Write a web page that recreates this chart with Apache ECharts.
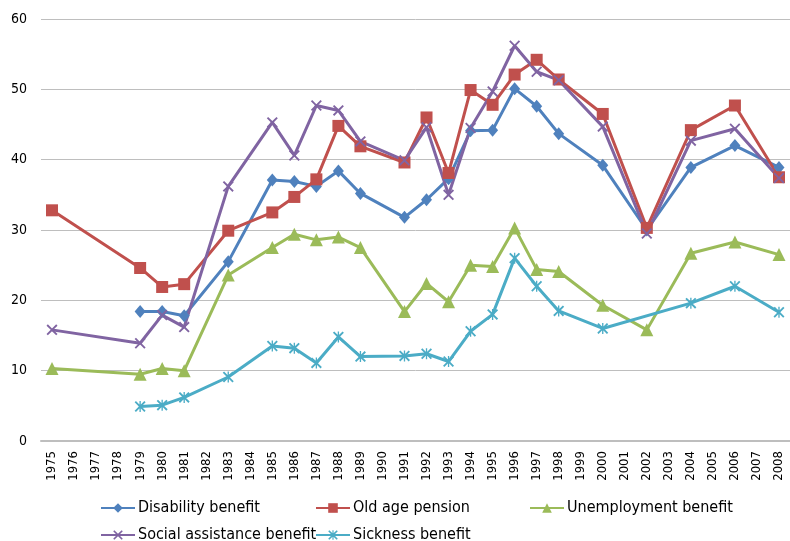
<!DOCTYPE html>
<html>
<head>
<meta charset="utf-8">
<script src="https://cdn.jsdelivr.net/npm/echarts@6/dist/echarts.min.js"></script>
<style>
html,body{margin:0;padding:0;background:#fff;}
#chart{width:790px;height:541px;}
</style>
</head>
<body>
<div id="chart"></div>
<script>
var years = ['1975','1976','1977','1978','1979','1980','1981','1982','1983','1984','1985','1986','1987','1988','1989','1990','1991','1992','1993','1994','1995','1996','1997','1998','1999','2000','2001','2002','2003','2004','2005','2006','2007','2008'];
var disability = [null,null,null,null,18.4,18.4,17.8,null,25.5,null,37.1,36.9,36.2,38.4,35.2,null,31.8,34.3,37.3,44.1,44.2,50.1,47.6,43.7,null,39.2,null,30.0,null,38.9,null,42.0,null,38.9];
var oldAge = [32.8,null,null,null,24.6,21.9,22.3,null,29.9,null,32.5,34.7,37.2,44.8,41.9,null,39.6,46.0,38.1,49.9,47.8,52.1,54.2,51.4,null,46.5,null,30.3,null,44.2,null,47.7,null,37.5];
var unemployment = [10.3,null,null,null,9.5,10.3,10.0,null,23.6,null,27.5,29.4,28.6,29.0,27.5,null,18.4,22.4,19.8,25.0,24.8,30.3,24.4,24.1,null,19.3,null,15.8,null,26.7,null,28.3,null,26.5];
var social = [15.8,null,null,null,13.9,17.9,16.2,null,36.2,null,45.3,40.6,47.7,47.0,42.6,null,39.9,44.6,35.0,44.5,49.7,56.2,52.5,51.3,null,44.7,null,29.5,null,42.7,null,44.4,null,37.4];
var sickness = [null,null,null,null,4.9,5.1,6.2,null,9.1,null,13.5,13.2,11.1,14.8,12.0,null,12.1,12.4,11.3,15.6,18.0,26.0,22.0,18.5,null,16.0,null,null,null,19.6,null,22.0,null,18.3];
var seriesNames = ['Disability benefit','Old age pension','Unemployment benefit','Social assistance benefit','Sickness benefit'];

var FONT = 'DejaVu Sans Condensed, DejaVu Sans, sans-serif';
var xPath = 'path://M0,1.2 L1.2,0 L5,3.8 L8.8,0 L10,1.2 L6.2,5 L10,8.8 L8.8,10 L5,6.2 L1.2,10 L0,8.8 L3.8,5 Z';
var starPath = 'path://M0,1.2 L1.2,0 L5,3.8 L8.8,0 L10,1.2 L6.2,5 L10,8.8 L8.8,10 L5,6.2 L1.2,10 L0,8.8 L3.8,5 Z M4.4,0 L5.6,0 L5.6,10 L4.4,10 Z';

function mk(name, data, color, symbol, size) {
  return {
    name: name, type: 'line', data: data, connectNulls: true,
    symbol: symbol, symbolSize: size,
    lineStyle: {color: color, width: 3},
    itemStyle: {color: color},
    emphasis: {disabled: true},
    animation: false
  };
}

var chart = echarts.init(document.getElementById('chart'));
function lg(name, left, top) {
  return {data: [name], left: left, top: top, padding: 0, itemWidth: 34, itemHeight: 12, itemGap: 0,
    textStyle: {fontFamily: FONT, fontSize: 16, color: '#000', padding: [0,0,0,-2]}, selectedMode: false};
}
chart.setOption({
  backgroundColor: '#fff',
  animation: false,
  grid: {left: 41, right: -6, top: 19, bottom: 100},
  legend: [
    lg(seriesNames[0], 100, 500),
    lg(seriesNames[1], 315, 500),
    lg(seriesNames[2], 529, 500),
    lg(seriesNames[3], 100, 527),
    lg(seriesNames[4], 315, 527)
  ],
  xAxis: {
    type: 'category', data: years, boundaryGap: true,
    axisLine: {lineStyle: {color: '#BEBEBE', width: 2}},
    axisTick: {show: false},
    axisLabel: {rotate: 90, interval: 0, margin: 10, color: '#000', fontFamily: FONT, fontSize: 13}
  },
  yAxis: {
    type: 'value', min: 0, max: 60, interval: 10,
    axisLine: {show: false}, axisTick: {show: false},
    splitLine: {lineStyle: {color: '#BEBEBE', width: 1}},
    axisLabel: {margin: 14, color: '#000', fontFamily: FONT, fontSize: 14}
  },
  series: [
    mk(seriesNames[0], disability, '#4F81BD', 'diamond', [11, 13]),
    mk(seriesNames[1], oldAge, '#C0504D', 'rect', 12),
    mk(seriesNames[2], unemployment, '#9BBB59', 'triangle', 13),
    mk(seriesNames[3], social, '#8064A2', xPath, 11),
    mk(seriesNames[4], sickness, '#4BACC6', starPath, 11)
  ]
});
</script>
</body>
</html>
